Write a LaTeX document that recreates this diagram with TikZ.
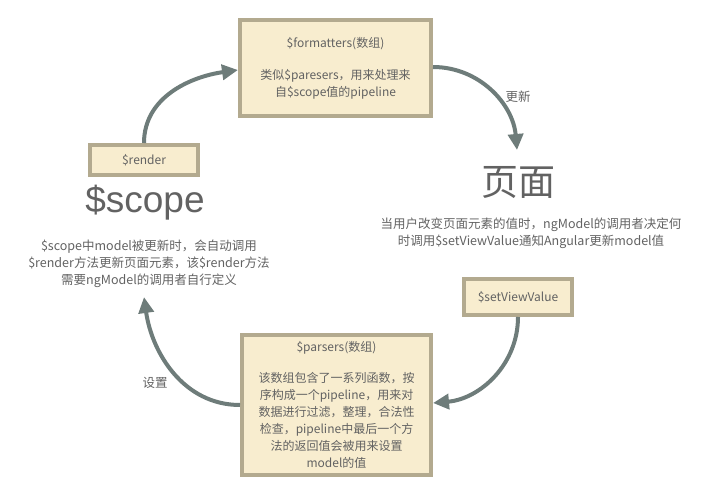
\documentclass[tikz,border=0pt]{standalone}
\usepackage{fontspec}
\setmainfont{Noto Sans CJK SC}
\newfontfamily\scopefont{Liberation Sans}
\usetikzlibrary{arrows.meta}
\definecolor{boxfill}{HTML}{F8EDCF}
\definecolor{boxline}{HTML}{B3AA8F}
\definecolor{flowline}{HTML}{6E7C7A}
\definecolor{txt}{HTML}{626262}
\tikzset{
  box/.style={draw=boxline, fill=boxfill, line width=4pt, text=txt, align=center,
    font=\fontsize{12}{17}\selectfont, inner sep=0pt},
  note/.style={text=txt, align=center, font=\fontsize{12.5}{17}\selectfont, inner sep=1pt},
  flow/.style={draw=flowline, line width=4pt, -{Triangle[length=16pt,width=15pt]}}
}
\begin{document}
\begin{tikzpicture}[x=1pt,y=-1pt]
\useasboundingbox (0,0) rectangle (703,495);
% draw boxes
\node[box, minimum width=191pt, minimum height=96pt] (fmt) at (335.5,68)
  {\$formatters(数组)\\[15pt]类似\$paresers，用来处理来\\自\$scope值的pipeline};
\node[box, minimum width=108pt, minimum height=30pt] (render) at (144,160) {\$render};
\node[box, minimum width=108pt, minimum height=36pt] (setview) at (518,297) {\$setViewValue};
\node[box, minimum width=189pt, minimum height=140pt] (prs) at (336.5,405)
  {\$parsers(数组)\\[14pt]该数组包含了一系列函数，按\\序构成一个pipeline，用来对\\数据进行过滤，整理，合法性\\检查，pipeline中最后一个方\\法的返回值会被用来设置\\model的值};
% draw big titles
\node[text=txt, font=\scopefont\fontsize{37}{40}\selectfont, inner sep=0pt] (scope) at (145,203) {\$scope};
\node[text=txt, font=\fontsize{37}{40}\selectfont, inner sep=0pt] (page) at (518,183) {页面};
% draw notes
\node[note] (scopenote) at (149,264)
  {\$scope中model被更新时，会自动调用\\\$render方法更新页面元素，该\$render方法\\需要ngModel的调用者自行定义};
\node[note] (pagenote) at (531,233)
  {当用户改变页面元素的值时，ngModel的调用者决定何\\时调用\$setViewValue通知Angular更新model值};
\coordinate (scopein) at (144,297);
\coordinate (pagein) at (517,150);
% draw arrows
\draw[flow] (render.north) to[out=90,in=188] (fmt.west |- 0,70);
\draw[flow] (fmt.east |- 0,67) to[out=0,in=95] (pagein);
\draw[flow] (setview.south) to[out=-90,in=5] (prs.east |- 0,403);
\draw[flow] (prs.west |- 0,405) to[out=180,in=-82] (scopein);
% draw arrow labels
\node[note] (update) at (518,97) {更新};
\node[note] (setlbl) at (155,383) {设置};
\end{tikzpicture}
\end{document}
